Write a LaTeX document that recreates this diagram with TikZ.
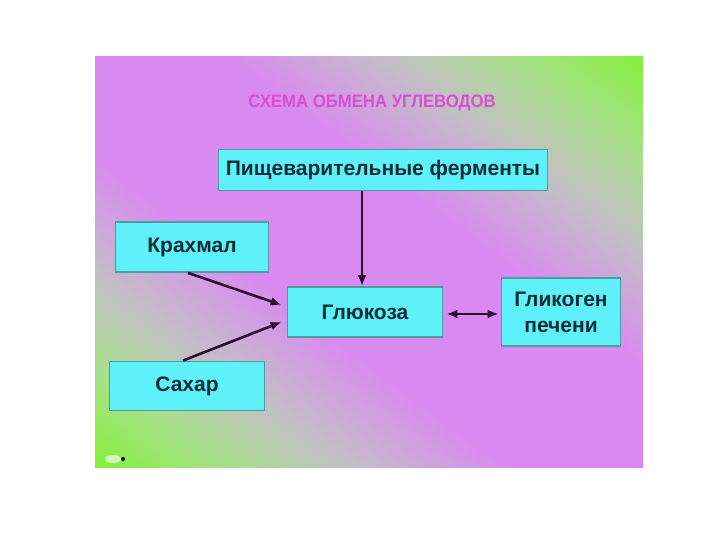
\documentclass[tikz,border=0pt]{standalone}
\usepackage{fontspec}
\setmainfont{Liberation Sans}
\usetikzlibrary{arrows.meta}
\definecolor{slideGreen} {HTML}{84F03A}
\definecolor{slideLime}  {HTML}{A8E08A}
\definecolor{slideGrey}  {HTML}{C4BDC8}
\definecolor{slideViolet}{HTML}{D98AF0}
\definecolor{boxFill}    {HTML}{5EF1F9}
\definecolor{boxLine}    {HTML}{4E9CA2}
\definecolor{boxInk}     {HTML}{0C2C38}
\definecolor{titleC}     {HTML}{D94ED2}
\definecolor{arrowC}     {HTML}{2E0B34}
\pgfdeclarehorizontalshading{slideShade}{100bp}{%
  color(0bp)=(slideGreen); color(25bp)=(slideGreen); color(31bp)=(slideLime);
  color(37bp)=(slideGrey); color(44bp)=(slideViolet); color(56bp)=(slideViolet);
  color(63bp)=(slideGrey); color(69bp)=(slideLime); color(75bp)=(slideGreen);
  color(100bp)=(slideGreen)}
\tikzset{
  >=Latex,
  foodBox/.style={draw=boxLine,line width=1.8pt,fill=boxFill,text=boxInk,
                  font=\fontsize{21}{26}\selectfont\bfseries,
                  inner sep=0pt,align=center},
  flow/.style={-{Latex[length=11pt,width=9pt]},line width=2.6pt,arrowC},
  biflow/.style={{Latex[length=11pt,width=9pt]}-{Latex[length=11pt,width=9pt]},
                 line width=2.6pt,arrowC},
}
\begin{document}
\begin{tikzpicture}[x=1pt,y=1pt]
\useasboundingbox (0,0) rectangle (720,540);
\fill[white] (0,0) rectangle (720,540);

% slide background, green corners and a violet band along the diagonal
\begin{scope}
  \clip (95,72) rectangle (643,483);
  \begin{scope}[transform canvas={shift={(369,277.5)},rotate=53.13}]
    \shade[shading=slideShade] (-329,-345) rectangle (329,345);
  \end{scope}
\end{scope}

\node[font=\fontsize{18}{20}\selectfont\bfseries,text=titleC,xscale=0.93] (title)
  at (372,437) {СХЕМА ОБМЕНА УГЛЕВОДОВ};

\node[foodBox,minimum width=329,minimum height=41] (enzymes) at (383,370)
  {Пищеварительные ферменты};
\node[foodBox,minimum width=153,minimum height=50] (starch)  at (192,293) {Крахмал};
\node[foodBox,minimum width=155,minimum height=50] (glucose) at (365,228) {Глюкоза};
\node[foodBox,minimum width=119,minimum height=68] (glycogen) at (561,228)
  {Гликоген\\печени};
\node[foodBox,minimum width=155,minimum height=49] (sugar)   at (187,154) {Сахар};

\draw[flow] ([xshift=-3pt]glucose.north |- enzymes.south) -- ([xshift=-3pt]glucose.north);
\draw[flow] ([xshift=-4pt]starch.south) -- ([xshift=-5pt,yshift=7pt]glucose.west);
\draw[flow] ([xshift=-4pt]sugar.north) -- ([xshift=-5pt,yshift=-10pt]glucose.west);
\draw[biflow,shorten <=3pt,shorten >=2pt] ([yshift=-2pt]glucose.east)
  -- ([yshift=-2pt]glycogen.west);

% slideshow marker in the lower corner
\fill[white,opacity=0.6] (113,81) ellipse (8 and 4);
\fill[black] (123,81) circle (2);
\end{tikzpicture}
\end{document}
